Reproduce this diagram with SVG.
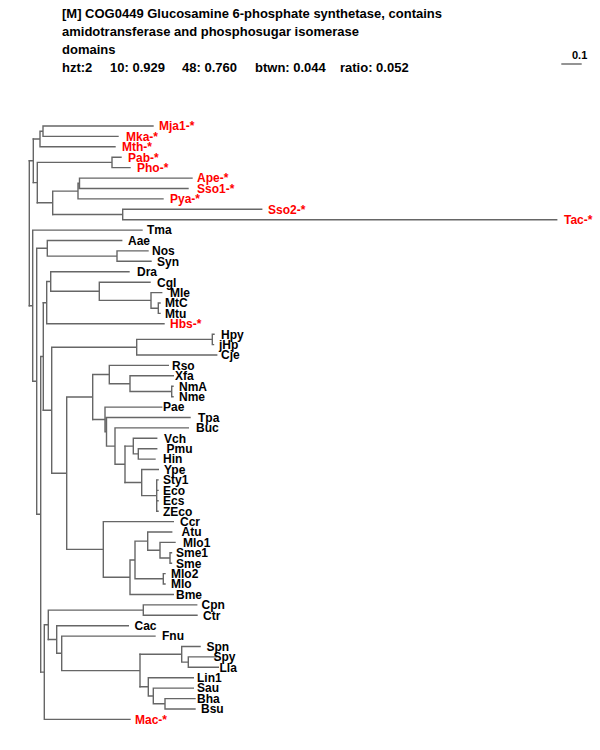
<svg xmlns="http://www.w3.org/2000/svg" width="600" height="750" viewBox="0 0 600 750">
<style>
.br{stroke:#666;stroke-width:1.4;fill:none;stroke-linecap:square}
.t{font-family:"Liberation Sans",Arial,sans-serif;font-weight:bold;font-size:13px;fill:#000}
.lb{font-family:"Liberation Sans",Arial,sans-serif;font-weight:bold;font-size:12px;fill:#000}
.ar{fill:#f00}
</style>
<rect width="600" height="750" fill="#fff"/>
<g id="title">
<text class="t" x="62" y="18">[M] COG0449 Glucosamine 6-phosphate synthetase, contains</text>
<text class="t" x="62" y="36">amidotransferase and phosphosugar isomerase</text>
<text class="t" x="62" y="54">domains</text>
<text class="t" x="62" y="72">hzt:2</text>
<text class="t" x="110" y="72">10: 0.929</text>
<text class="t" x="182" y="72">48: 0.760</text>
<text class="t" x="255" y="72">btwn: 0.044</text>
<text class="t" x="340" y="72">ratio: 0.052</text>
</g>
<g id="scale">
<text class="lb" x="572" y="59" style="font-size:11px">0.1</text>
<path class="br" d="M562 64H581"/>
</g>
<g id="connectors">
<!-- root -->
<path class="br" d="M29.3 160.8V305.7"/>
<!-- archaea -->
<path class="br" d="M29.3 160.8H33.3M33.3 139V182.6"/>
<path class="br" d="M33.3 139H40M40 131.2V146.8M40 131.2H43M43 126V136.4M43 126H153M43 136.4H118M40 146.8H115"/>
<path class="br" d="M33.3 182.6H37.3M37.3 162.4V202.8M37.3 162.4H112M112 157.2V167.6M112 157.2H121M112 167.6H130"/>
<path class="br" d="M37.3 202.8H52.7M52.7 191.1V214.5M52.7 191.1H78M78 183.3V198.9M78 183.3H79.5M79.5 178.1V188.5M79.5 178.1H192M79.5 188.5H188M78 198.9H163"/>
<path class="br" d="M52.7 214.5H122.7M122.7 209.3V219.7M122.7 209.3H261.7M122.7 219.7H556.7"/>
<!-- bacteria -->
<path class="br" d="M29.3 305.7H32.7M32.7 230.1V381.3M32.7 230.1H142"/>
<path class="br" d="M32.7 381.3H36.7M36.7 248.3V514.3M36.7 248.3H47.3M47.3 240.5V256.1M47.3 240.5H121.7M47.3 256.1H117M117 250.9V261.3M117 250.9H148M117 261.3H151"/>
<path class="br" d="M36.7 514.3H40.7M40.7 356.5V672.1M40.7 356.5H43.3M43.3 302.7V410.2"/>
<path class="br" d="M43.3 302.7H46.7M46.7 281.5V323.8M46.7 323.8H164M46.7 281.5H50.7M50.7 271.7V291.3M50.7 271.7H129M50.7 291.3H99.3M99.3 282.2V300.4M99.3 282.2H150M99.3 300.4H151M151 292.6V308.2M151 292.6H161.7M151 308.2H158.3M158.3 303V313.4M158.3 303H160M158.3 313.4H160"/>
<path class="br" d="M43.3 410.2H51.7M51.7 347.2V473.2M51.7 347.2H136.7M136.7 339.4V355M136.7 339.4H212.3M212.3 334.2V344.6M212.3 334.2H214M212.3 344.6H213.5M136.7 355H216.7"/>
<path class="br" d="M51.7 473.2H66.7M66.7 397V549.4M66.7 397H92.7M92.7 374.5V419.5M92.7 374.5H109.3M109.3 365.4V383.7M109.3 365.4H168.3M109.3 383.7H130M130 375.8V391.5M130 375.8H173.3M130 391.5H171.7M171.7 386.3V396.7M171.7 386.3H173M171.7 396.7H173"/>
<path class="br" d="M92.7 419.5H105M105 407.1V431.8M105 407.1H161.7M105 431.8H106.5M106.5 417.5V446.1M106.5 417.5H190M106.5 446.1H115M115 427.9V464.3M115 427.9H188.3M115 464.3H125M125 446.1V482.5"/>
<path class="br" d="M125 446.1H133.3M133.3 438.3V453.9M133.3 438.3H156.7M133.3 453.9H138.3M138.3 448.7V459.1M138.3 448.7H156.7M138.3 459.1H155"/>
<path class="br" d="M125 482.5H141.7M141.7 469.5V495.6M141.7 469.5H158.3M141.7 495.6H156.7M156.7 479.9V511.2M156.7 479.9H158M156.7 490.4H158M156.7 500.8H158M156.7 511.2H158"/>
<path class="br" d="M66.7 549.4H103.3M103.3 521.6V577.2M103.3 521.6H173.3M103.3 577.2H130M130 560V594.5M130 594.5H173.3M130 560H135M135 541.1V578.8M135 541.1H147.7M147.7 532V550.2M147.7 532H171.7M147.7 550.2H160M160 542.4V558M160 542.4H175M160 558H170M170 552.8V563.2M170 552.8H171.5M170 563.2H171.5M135 578.8H163.3M163.3 573.6V584M163.3 573.6H165M163.3 584H165"/>
<path class="br" d="M40.7 672.1H44.3M44.3 624.8V719.4M44.3 719.4H130M44.3 624.8H48.3M48.3 610.1V639.5M48.3 610.1H143.3M143.3 604.9V615.3M143.3 604.9H196.7M143.3 615.3H197"/>
<path class="br" d="M48.3 639.5H56.7M56.7 625.7V653.3M56.7 625.7H128.3M56.7 653.3H61.7M61.7 636.1V670.6M61.7 636.1H155M61.7 670.6H140M140 654.3V686.8"/>
<path class="br" d="M140 654.3H181.7M181.7 646.5V662.1M181.7 646.5H200M181.7 662.1H188.3M188.3 656.9V667.3M188.3 656.9H216.7M188.3 667.3H218.3"/>
<path class="br" d="M140 686.8H148.3M148.3 677.7V696M148.3 677.7H193.3M148.3 696H153.3M153.3 688.1V703.8M153.3 688.1H193.3M153.3 703.8H165M165 698.6V709M165 698.6H195M165 709H195"/>
</g>
<g id="leaf-Mja1"><text class="lb ar" x="159" y="130.3">Mja1-*</text></g>
<g id="leaf-Mka"><text class="lb ar" x="126" y="140.7">Mka-*</text></g>
<g id="leaf-Mth"><text class="lb ar" x="122" y="151.1">Mth-*</text></g>
<g id="leaf-Pab"><text class="lb ar" x="128" y="161.5">Pab-*</text></g>
<g id="leaf-Pho"><text class="lb ar" x="137" y="171.9">Pho-*</text></g>
<g id="leaf-Ape"><text class="lb ar" x="197" y="182.4">Ape-*</text></g>
<g id="leaf-Sso1"><text class="lb ar" x="197" y="192.8">Sso1-*</text></g>
<g id="leaf-Pya"><text class="lb ar" x="170" y="203.2">Pya-*</text></g>
<g id="leaf-Sso2"><text class="lb ar" x="268" y="213.6">Sso2-*</text></g>
<g id="leaf-Tac"><text class="lb ar" x="564" y="224">Tac-*</text></g>
<g id="leaf-Tma"><text class="lb" x="147" y="234.4">Tma</text></g>
<g id="leaf-Aae"><text class="lb" x="128" y="244.8">Aae</text></g>
<g id="leaf-Nos"><text class="lb" x="152" y="255.2">Nos</text></g>
<g id="leaf-Syn"><text class="lb" x="157" y="265.6">Syn</text></g>
<g id="leaf-Dra"><text class="lb" x="137" y="276">Dra</text></g>
<g id="leaf-Cgl"><text class="lb" x="157" y="286.5">Cgl</text></g>
<g id="leaf-Mle"><text class="lb" x="170" y="296.9">Mle</text></g>
<g id="leaf-MtC"><text class="lb" x="165" y="307.3">MtC</text></g>
<g id="leaf-Mtu"><text class="lb" x="165" y="317.7">Mtu</text></g>
<g id="leaf-Hbs"><text class="lb ar" x="170" y="328.1">Hbs-*</text></g>
<g id="leaf-Hpy"><text class="lb" x="221" y="338.5">Hpy</text></g>
<g id="leaf-jHp"><text class="lb" x="219" y="348.9">jHp</text></g>
<g id="leaf-Cje"><text class="lb" x="221" y="359.3">Cje</text></g>
<g id="leaf-Rso"><text class="lb" x="172" y="369.7">Rso</text></g>
<g id="leaf-Xfa"><text class="lb" x="175" y="380.1">Xfa</text></g>
<g id="leaf-NmA"><text class="lb" x="179" y="390.6">NmA</text></g>
<g id="leaf-Nme"><text class="lb" x="179" y="401">Nme</text></g>
<g id="leaf-Pae"><text class="lb" x="163" y="411.4">Pae</text></g>
<g id="leaf-Tpa"><text class="lb" x="198" y="421.8">Tpa</text></g>
<g id="leaf-Buc"><text class="lb" x="196" y="432.2">Buc</text></g>
<g id="leaf-Vch"><text class="lb" x="164" y="442.6">Vch</text></g>
<g id="leaf-Pmu"><text class="lb" x="166.5" y="453">Pmu</text></g>
<g id="leaf-Hin"><text class="lb" x="163" y="463.4">Hin</text></g>
<g id="leaf-Ype"><text class="lb" x="164" y="473.8">Ype</text></g>
<g id="leaf-Sty1"><text class="lb" x="163" y="484.2">Sty1</text></g>
<g id="leaf-Eco"><text class="lb" x="163" y="494.7">Eco</text></g>
<g id="leaf-Ecs"><text class="lb" x="163" y="505.1">Ecs</text></g>
<g id="leaf-ZEco"><text class="lb" x="163" y="515.5">ZEco</text></g>
<g id="leaf-Ccr"><text class="lb" x="180" y="525.9">Ccr</text></g>
<g id="leaf-Atu"><text class="lb" x="181.5" y="536.3">Atu</text></g>
<g id="leaf-Mlo1"><text class="lb" x="183" y="546.7">Mlo1</text></g>
<g id="leaf-Sme1"><text class="lb" x="176" y="557.1">Sme1</text></g>
<g id="leaf-Sme"><text class="lb" x="176" y="567.5">Sme</text></g>
<g id="leaf-Mlo2"><text class="lb" x="171" y="577.9">Mlo2</text></g>
<g id="leaf-Mlo"><text class="lb" x="171" y="588.3">Mlo</text></g>
<g id="leaf-Bme"><text class="lb" x="176" y="598.8">Bme</text></g>
<g id="leaf-Cpn"><text class="lb" x="201.5" y="609.2">Cpn</text></g>
<g id="leaf-Ctr"><text class="lb" x="203" y="619.6">Ctr</text></g>
<g id="leaf-Cac"><text class="lb" x="134.5" y="630">Cac</text></g>
<g id="leaf-Fnu"><text class="lb" x="162" y="640.4">Fnu</text></g>
<g id="leaf-Spn"><text class="lb" x="206.5" y="650.8">Spn</text></g>
<g id="leaf-Spy"><text class="lb" x="213.5" y="661.2">Spy</text></g>
<g id="leaf-Lla"><text class="lb" x="219.5" y="671.6">Lla</text></g>
<g id="leaf-Lin1"><text class="lb" x="197" y="682">Lin1</text></g>
<g id="leaf-Sau"><text class="lb" x="197" y="692.4">Sau</text></g>
<g id="leaf-Bha"><text class="lb" x="197" y="702.9">Bha</text></g>
<g id="leaf-Bsu"><text class="lb" x="201" y="713.3">Bsu</text></g>
<g id="leaf-Mac"><text class="lb ar" x="135" y="723.7">Mac-*</text></g>
</svg>
